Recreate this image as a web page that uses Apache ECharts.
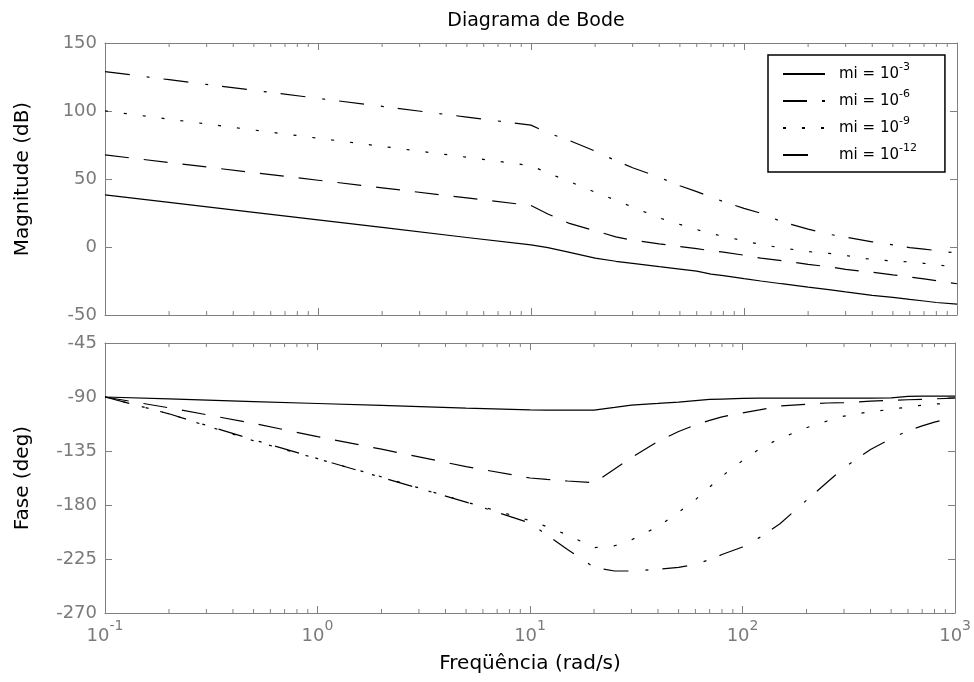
<!DOCTYPE html>
<html><head><meta charset="utf-8">
<script src="https://cdn.jsdelivr.net/npm/echarts@6/dist/echarts.min.js"></script>
<style>html,body{margin:0;padding:0;background:#fff}#c{width:974px;height:682px}</style>
</head><body><div id="c"></div>
<script>
// ---- data ----
const freq = [0.1, 0.2, 0.5, 1, 2, 5, 10, 12, 15, 20, 25, 30, 40, 50, 60, 70, 80, 100, 120, 150, 200, 250, 300, 400, 500, 600, 700, 800, 1000];
const seriesNames = ['mi = 10^-3', 'mi = 10^-6', 'mi = 10^-9', 'mi = 10^-12'];
const magMi3  = [38.3, 32.8, 25.4, 19.9, 14.4, 7.0, 1.5, -0.5, -3.8, -8.2, -10.5, -12, -14.5, -16.3, -17.8, -20, -21, -23.3, -25, -27, -29.5, -31.3, -33, -35.5, -37, -38.5, -39.7, -40.8, -42];
const magMi6  = [67.7, 62.1, 54.7, 49.1, 43.5, 36.1, 30.5, 24.3, 17.6, 11.9, 7.5, 5.0, 2.3, 0.3, -1.2, -2.8, -3.8, -6.0, -8.2, -10.0, -12.8, -14.5, -16.5, -18.6, -20.5, -22.0, -23.5, -24.8, -27];
const magMi9  = [100.1, 94, 86, 80, 74, 66, 59.8, 54.4, 48.4, 40.3, 34.4, 29.3, 21.4, 16.6, 12.8, 10, 7.8, 4.5, 1.8, -0.6, -3.4, -4.7, -6.3, -9.2, -10.2, -11, -12, -13, -15];
const magMi12 = [129, 123, 115.2, 109.3, 103.4, 95.5, 89.6, 84, 78.5, 70.5, 63.5, 58.3, 51.3, 45, 40.7, 36.8, 33.4, 28.4, 24.8, 18.7, 13.1, 9.4, 7.2, 3.8, 1.6, -0.4, -1.6, -2.6, -4.5];
const phaseMi3  = [-90, -91.6, -93.8, -95.4, -97, -99.2, -100.8, -101, -101, -101, -98.7, -96.7, -95.3, -94.2, -93, -92, -91.7, -91.2, -91, -91, -91, -91, -91, -91, -90.8, -89.5, -89.3, -89.3, -89.3];
const phaseMi6  = [-90, -99, -112, -123, -133.5, -148, -157.5, -158.7, -160, -161.5, -150, -140.5, -127, -118.7, -113.3, -109.5, -106.5, -103.3, -100.8, -97.5, -96, -95, -94.7, -93.5, -92.8, -92.3, -92, -91.5, -91];
const phaseMi9  = [-90, -104, -126.5, -141.5, -156.5, -177.5, -193, -198, -205, -215.5, -214, -209, -198, -186, -175.6, -165, -156, -143, -133.2, -124.5, -115.6, -110, -105.9, -102.2, -100.3, -98.3, -96.8, -95.9, -95];
const phaseMi12 = [-90, -104, -125.7, -141.3, -157, -177.6, -195, -205, -217, -232, -235, -235, -233.5, -232, -229.5, -225.5, -221.3, -215, -207.2, -195.6, -176, -161.1, -148.9, -133.8, -124.7, -118.2, -114.1, -110.9, -106.7];
const xDecades = [0.1, 1, 10, 100, 1000];
const minorTickFreqs = [0.2,0.3,0.4,0.5,0.6,0.7,0.8,0.9, 2,3,4,5,6,7,8,9, 20,30,40,50,60,70,80,90, 200,300,400,500,600,700,800,900];
const magAxis = {min: -50, max: 150, interval: 50};
const phaseAxis = {min: -270, max: -45, interval: 45};

// ---- style ----
const FONT = 'DejaVu Sans';
const AXIS = '#808080';
const LABEL = '#7a7a7a';
const dashTypes = ['solid', [24, 15], [3, 16], [25, 17, 3, 14]];

function xAx(gridIndex, position, showLabels, name) {
  return {
    type: 'log', logBase: 10, gridIndex: gridIndex, position: position,
    min: xDecades[0], max: xDecades[xDecades.length - 1],
    axisLine: {show: true, onZero: false, lineStyle: {color: AXIS, width: 1}},
    axisTick: {show: true, inside: true, length: 7, lineStyle: {color: AXIS, width: 1}},
    splitLine: {show: false},
    axisLabel: {
      show: showLabels, margin: 12, color: LABEL,
      formatter: function (v) { return '{b|10}{s|' + Math.round(Math.log10(v)) + '}'; },
      rich: {
        b: {fontFamily: FONT, fontSize: 18, color: LABEL, lineHeight: 22},
        s: {fontFamily: FONT, fontSize: 14, color: LABEL, lineHeight: 8, padding: [0, 0, 20, 0]}
      }
    },
    name: name || '', nameLocation: 'middle', nameGap: 29,
    nameTextStyle: {fontFamily: FONT, fontSize: 20, color: '#000'}
  };
}
function yAx(gridIndex, position, showLabels, rng, name) {
  return {
    type: 'value', gridIndex: gridIndex, position: position,
    min: rng.min, max: rng.max, interval: rng.interval,
    axisLine: {show: true, onZero: false, lineStyle: {color: AXIS, width: 1}},
    axisTick: {show: true, inside: true, length: 7, lineStyle: {color: AXIS, width: 1}},
    splitLine: {show: false},
    axisLabel: {show: showLabels, margin: 8, color: LABEL, fontFamily: FONT, fontSize: 18},
    name: name || '', nameLocation: 'middle', nameGap: 72, nameRotate: 90,
    nameTextStyle: {fontFamily: FONT, fontSize: 20, color: '#000'}
  };
}
function lineSeries(i, values, xIdx, yIdx) {
  return {
    type: 'line', name: seriesNames[i], xAxisIndex: xIdx, yAxisIndex: yIdx,
    data: freq.map(function (f, k) { return [f, values[k]]; }),
    symbol: 'none', showSymbol: false, smooth: false, z: 3,
    lineStyle: {color: '#000', width: 1.2, type: dashTypes[i], cap: 'butt'},
    itemStyle: {color: '#000'}
  };
}
function minorTicks(xIdx, yIdx, yBase) {
  return {
    type: 'custom', xAxisIndex: xIdx, yAxisIndex: yIdx, silent: true, z: 1,
    data: minorTickFreqs.map(function (f) { return [f, yBase]; }),
    encode: {x: 0, y: 1},
    renderItem: function (params, api) {
      const cs = params.coordSys;
      const x = api.coord([api.value(0), api.value(1)])[0];
      const st = {stroke: AXIS, lineWidth: 1};
      return {type: 'group', children: [
        {type: 'line', shape: {x1: x, y1: cs.y + cs.height, x2: x, y2: cs.y + cs.height - 4}, style: st},
        {type: 'line', shape: {x1: x, y1: cs.y, x2: x, y2: cs.y + 4}, style: st}
      ]};
    }
  };
}

const mags = [magMi3, magMi6, magMi9, magMi12];
const phases = [phaseMi3, phaseMi6, phaseMi9, phaseMi12];
const series = [];
mags.forEach(function (v, i) { series.push(lineSeries(i, v, 0, 0)); });
phases.forEach(function (v, i) { series.push(lineSeries(i, v, 2, 2)); });
series.push(minorTicks(0, 0, magAxis.min));
series.push(minorTicks(2, 2, phaseAxis.min));

const option = {
  animation: false,
  backgroundColor: '#fff',
  title: {
    text: 'Diagrama de Bode', left: 531, top: 7, textAlign: 'center',
    textStyle: {fontFamily: FONT, fontSize: 19, fontWeight: 'normal', color: '#000'}
  },
  legend: {
    data: seriesNames, orient: 'vertical', left: 768, top: 55,
    backgroundColor: '#fff', borderColor: '#000', borderWidth: 1.5,
    padding: [7, 28, 5, 14], itemWidth: 42, itemHeight: 14, itemGap: 3,
    selectedMode: false,
    itemStyle: {color: 'rgba(0,0,0,0)', borderWidth: 0, opacity: 0},
    formatter: function (n) { const p = n.split('^'); return '{a|' + p[0] + '}{s|' + p[1] + '}'; },
    textStyle: {
      fontFamily: FONT, fontSize: 15, color: '#000',
      rich: {
        a: {fontFamily: FONT, fontSize: 15, color: '#000', lineHeight: 18, padding: [0, 0, 0, 9]},
        s: {fontFamily: FONT, fontSize: 11, color: '#000', lineHeight: 8, padding: [0, 0, 13, 0]}
      }
    }
  },
  grid: [
    {left: 105, top: 43, width: 852, height: 272},
    {left: 105, top: 343, width: 852, height: 270}
  ],
  xAxis: [
    xAx(0, 'bottom', false),
    xAx(0, 'top', false),
    xAx(1, 'bottom', true, 'Freqüência (rad/s)'),
    xAx(1, 'top', false)
  ],
  yAxis: [
    yAx(0, 'left', true, magAxis, 'Magnitude (dB)'),
    yAx(0, 'right', false, magAxis),
    yAx(1, 'left', true, phaseAxis, 'Fase (deg)'),
    yAx(1, 'right', false, phaseAxis)
  ],
  series: series
};
const chart = echarts.init(document.getElementById('c'), null, {renderer: 'canvas'});
chart.setOption(option);
</script>
</body></html>
